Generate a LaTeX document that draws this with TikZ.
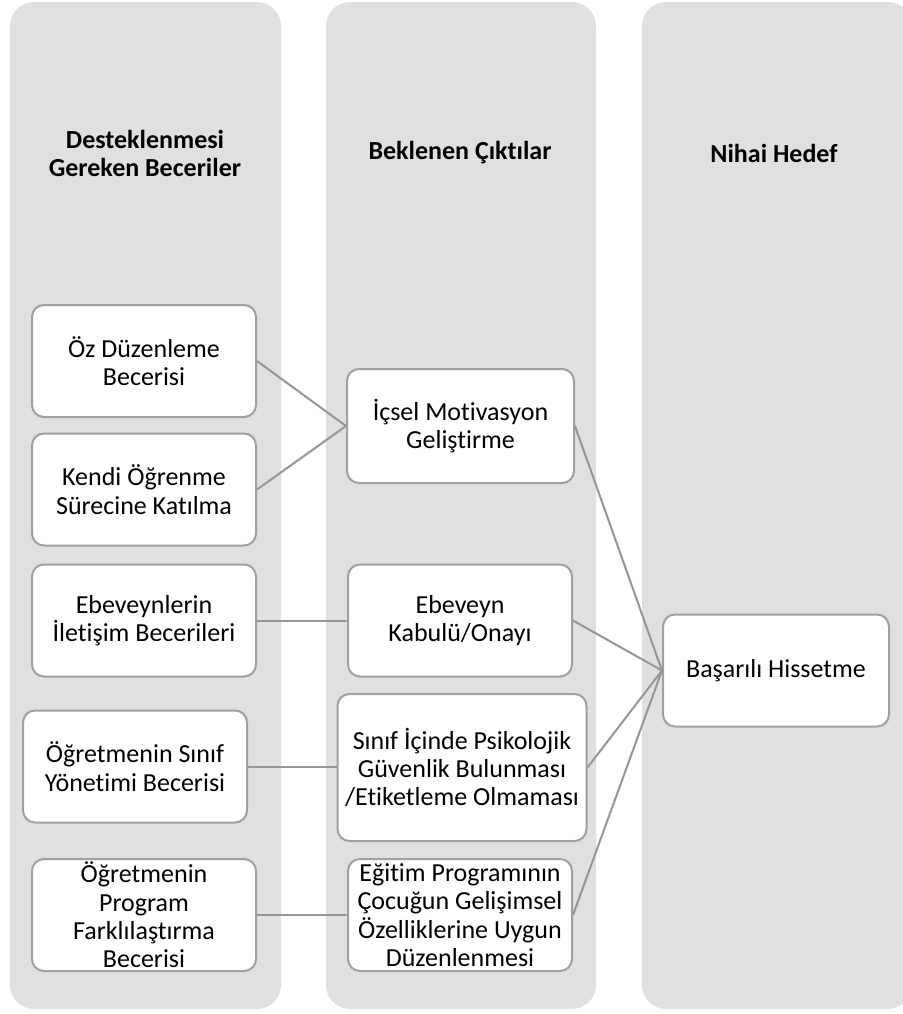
\documentclass[tikz,border=0pt]{standalone}
\usepackage{fontspec}
\setmainfont{Carlito}[Ligatures=NoCommon]
\usepackage{tikz}
\usetikzlibrary{positioning}
\definecolor{colgrey}{RGB}{224,224,224}
\definecolor{boxedge}{RGB}{160,160,160}
\definecolor{linkgrey}{RGB}{150,150,150}

\begin{document}
\begin{tikzpicture}[x=0.5pt, y=-0.5pt,
    colbg/.style={fill=colgrey, rounded corners=12pt},
    colhead/.style={font=\fontsize{13}{14}\selectfont\bfseries, align=center},
    skillbox/.style={rectangle, draw=boxedge, fill=white, line width=1pt,
        rounded corners=6pt, align=center, inner sep=0pt,
        minimum width=112pt, minimum height=56pt,
        font=\fontsize{13}{14.2}\selectfont},
    link/.style={draw=linkgrey, line width=1pt}
]
\useasboundingbox (0,0) rectangle (903,1014);
% columns
\path[colbg] (10,2) rectangle (281,1009);
\path[colbg] (326,2) rectangle (596,1009);
\path[colbg] (642,2) rectangle (912,1009);
\node[colhead] (headA) at (145,153) {Desteklenmesi\\Gereken Beceriler};
\node[colhead] (headB) at (460,153) {Beklenen Çıktılar};
\node[colhead] (headC) at (774,153) {Nihai Hedef};
% skills
\node[skillbox] (oz) at (144,361) {Öz Düzenleme\\Becerisi};
\node[skillbox] (kendi) at (144,489.5) {Kendi Öğrenme\\Sürecine Katılma};
\node[skillbox] (ebeveyn) at (144,620.5) {Ebeveynlerin\\İletişim Becerileri};
\node[skillbox] (sinif) at (135,766.5) {Öğretmenin Sınıf\\Yönetimi Becerisi};
\node[skillbox] (program) at (144,915) {Öğretmenin\\Program\\Farklılaştırma\\Becerisi};
% outcomes
\node[skillbox, minimum width=113.5pt, minimum height=57pt] (icsel) at (460.5,426) {İçsel Motivasyon\\Geliştirme};
\node[skillbox] (kabul) at (460,620.5) {Ebeveyn\\Kabulü/Onayı};
\node[skillbox, minimum width=124.5pt, minimum height=73.5pt] (guven) at (462,767.5) {Sınıf İçinde Psikolojik\\Güvenlik Bulunması\\/Etiketleme Olmaması};
\node[skillbox] (egitim) at (460,915) {Eğitim Programının\\Çocuğun Gelişimsel\\Özelliklerine Uygun\\Düzenlenmesi};
% goal
\node[skillbox, minimum width=113pt] (basari) at (776,670.5) {Başarılı Hissetme};
% links
\draw[link] (oz.east) -- (icsel.west);
\draw[link] (kendi.east) -- (icsel.west);
\draw[link] (ebeveyn) -- (kabul);
\draw[link] (sinif.east) -- (guven.west |- sinif.east);
\draw[link] (program) -- (egitim);
\foreach \n in {icsel,kabul,guven,egitim}
    \draw[link] (\n.east) -- (basari.west);
\end{tikzpicture}
\end{document}
